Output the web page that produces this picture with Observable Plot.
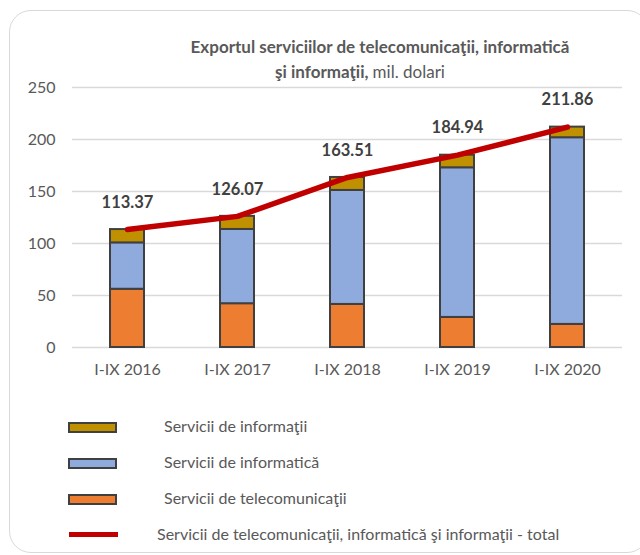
<!DOCTYPE html>
<html>
<head>
<meta charset="utf-8">
<script src="https://cdn.jsdelivr.net/npm/d3@7"></script>
<script src="https://cdn.jsdelivr.net/npm/@observablehq/plot@0.6"></script>
<style>
  html, body { margin: 0; padding: 0; background: #fff; }
  body { width: 640px; height: 555px; position: relative; overflow: hidden; font-family: Lato, "Open Sans", sans-serif; color: #595959; }
  #frame { position: absolute; left: 9px; top: 10px; width: 640px; height: 543px; border: 1.5px solid #d9d9d9; border-radius: 22px; box-sizing: border-box; }
  .t { position: absolute; white-space: nowrap; font-size: 17px; font-weight: bold; color: #595959; transform: translateX(-50%); }
  #chart { position: absolute; left: 0; top: 80px; }
  .lg { position: absolute; white-space: nowrap; font-size: 16px; color: #595959; }
  .sw { position: absolute; width: 49px; height: 11px; box-sizing: border-box; border: 2px solid #404040; }
  .ln { position: absolute; width: 49px; height: 5px; background: #c00000; }
</style>
</head>
<body>
<div id="frame"></div>
<div class="t" id="t1" style="left:380px; top:36px;">Exportul serviciilor de telecomunicaţii, informatică</div>
<div class="t" id="t2" style="left:360px; top:61px;">şi informaţii, <span style="font-weight:normal">mil. dolari</span></div>
<div id="chart"></div>
<div id="legend"></div>
<script>
const periods = ["I-IX 2016", "I-IX 2017", "I-IX 2018", "I-IX 2019", "I-IX 2020"];
const telecomunicatii = [56.0, 42.1, 41.4, 28.9, 22.2];
const informatica = [44.6, 71.4, 109.6, 143.9, 179.5];
const informatii = [12.8, 12.6, 12.5, 12.1, 10.2];
const totals = [113.37, 126.07, 163.51, 184.94, 211.86];
const seriesNames = ["Servicii de telecomunicaţii", "Servicii de informatică", "Servicii de informaţii"];
const seriesColors = ["#ed7d31", "#8faadc", "#bf9000"];
const totalName = "Servicii de telecomunicaţii, informatică şi informaţii - total";
const yTicks = [0, 50, 100, 150, 200, 250];

const stacked = [];
periods.forEach((p, i) => {
  stacked.push({period: p, series: seriesNames[0], value: telecomunicatii[i]});
  stacked.push({period: p, series: seriesNames[1], value: informatica[i]});
  stacked.push({period: p, series: seriesNames[2], value: informatii[i]});
});
const totalData = periods.map((p, i) => ({period: p, total: totals[i]}));

const chart = Plot.plot({
  width: 640,
  height: 310,
  marginLeft: 72,
  marginRight: 18,
  marginTop: 7,
  marginBottom: 43,
  style: {fontFamily: "Lato, 'Open Sans', sans-serif", fontSize: "16px", color: "#595959", background: "transparent", overflow: "visible"},
  x: {domain: periods, paddingInner: 0.69, paddingOuter: 0.345, label: null, tickSize: 0, tickPadding: 16},
  y: {domain: [0, 250], ticks: yTicks, label: null, tickSize: 0, tickPadding: 17},
  color: {domain: seriesNames, range: seriesColors},
  marks: [
    Plot.gridY(yTicks, {stroke: "#d9d9d9", strokeOpacity: 1, strokeWidth: 1.5}),
    Plot.barY(stacked, {x: "period", y: "value", fill: "series", order: seriesNames, stroke: "#404040", strokeWidth: 2}),
    Plot.line(totalData, {x: "period", y: "total", stroke: "#c00000", strokeWidth: 5.5, curve: "linear"}),
    Plot.text(totalData, {x: "period", y: "total", text: d => d.total.toFixed(2), dy: -27, fontWeight: "bold", fontSize: 16.5, fill: "#404040"})
  ]
});
document.getElementById("chart").appendChild(chart);

const legend = document.getElementById("legend");
const items = [
  {name: seriesNames[2], color: seriesColors[2], cy: 427, tx: 164},
  {name: seriesNames[1], color: seriesColors[1], cy: 463, tx: 164},
  {name: seriesNames[0], color: seriesColors[0], cy: 499, tx: 164}
];
items.forEach(it => {
  const sw = document.createElement("div");
  sw.className = "sw";
  sw.style.left = "68px";
  sw.style.top = (it.cy - 5.5) + "px";
  sw.style.background = it.color;
  legend.appendChild(sw);
  const tx = document.createElement("div");
  tx.className = "lg";
  tx.style.left = it.tx + "px";
  tx.style.top = (it.cy - 11) + "px";
  tx.textContent = it.name;
  legend.appendChild(tx);
});
const ln = document.createElement("div");
ln.className = "ln";
ln.style.left = "69px";
ln.style.top = "532px";
legend.appendChild(ln);
const lt = document.createElement("div");
lt.className = "lg";
lt.style.left = "157px";
lt.style.top = "524px";
lt.textContent = totalName;
legend.appendChild(lt);
</script>
</body>
</html>
